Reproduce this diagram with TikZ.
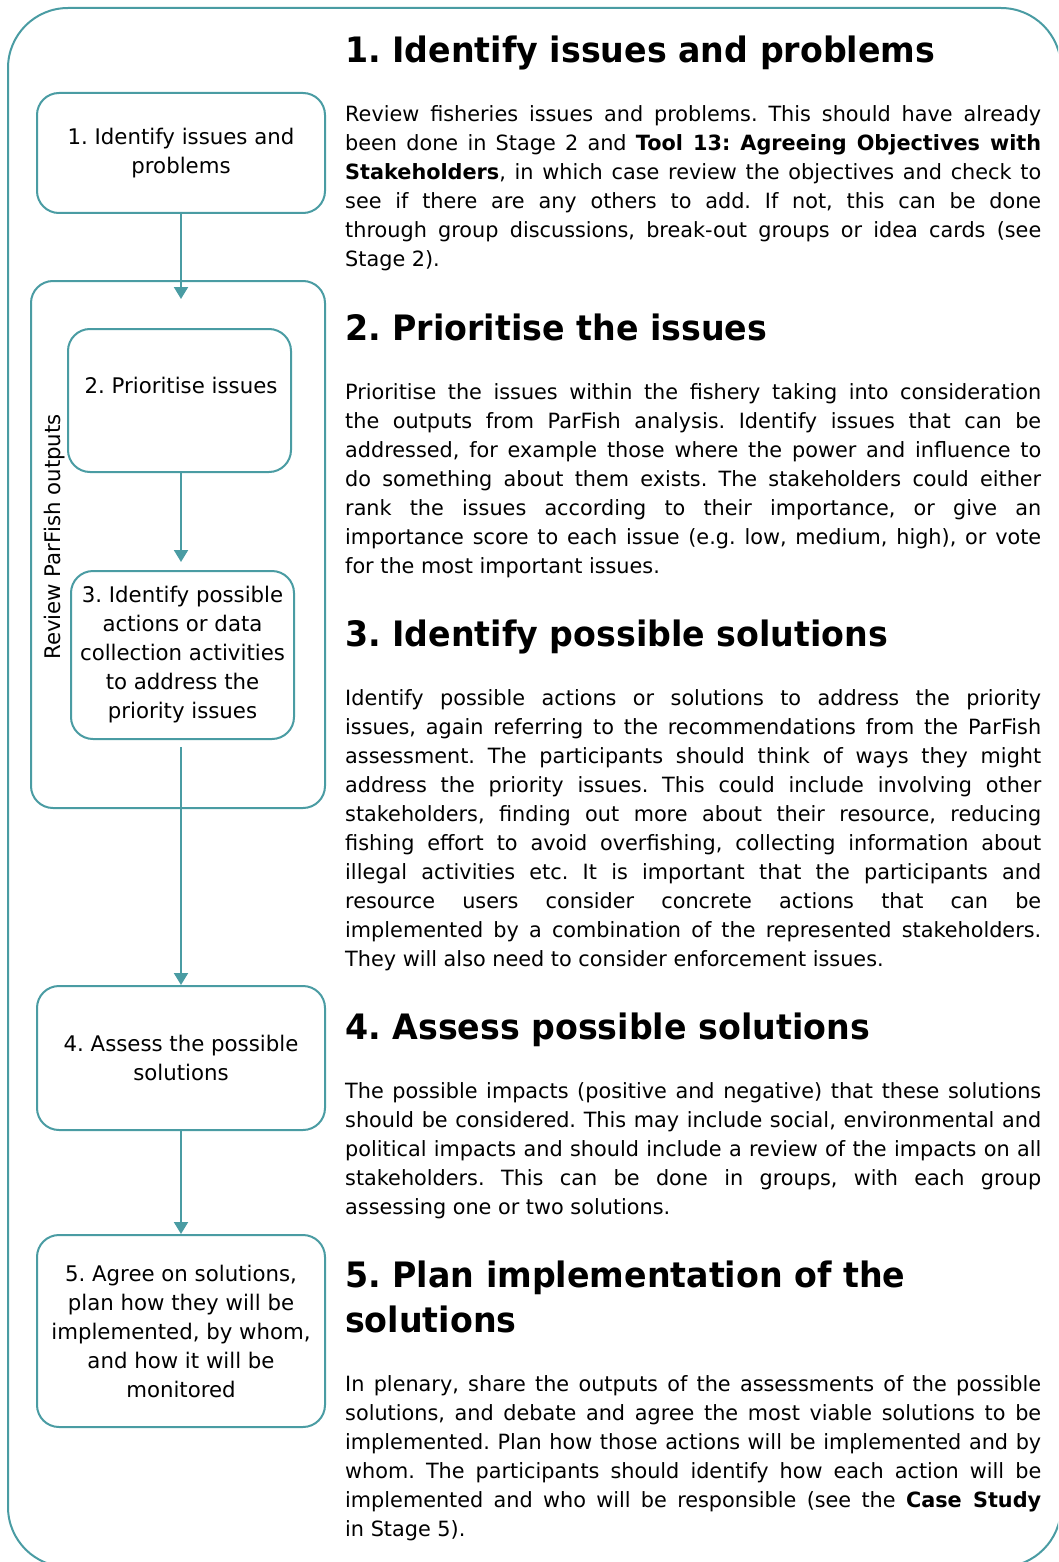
\documentclass[tikz,border=0pt]{standalone}
\usepackage{fontspec}
\setmainfont{DejaVu Sans}[FakeStretch=0.99]
\newfontfamily\hfont{DejaVu Sans}[FakeStretch=0.95]
\usetikzlibrary{arrows.meta}
\definecolor{tealline}{RGB}{74,156,163}
\newcommand\jl[1]{\hbox to 696pt{#1}}
\newcommand\el[1]{\hbox{#1}}
\begin{document}
\frenchspacing
\begin{tikzpicture}[x=1pt,y=-1pt,
  frame/.style={draw=tealline,line width=2pt,rounded corners=22pt},
  box/.style={frame,fill=white,align=center,font=\fontsize{21.5}{29}\selectfont,inner sep=0pt},
  conn/.style={draw=tealline,line width=2pt,-{Triangle[width=14pt,length=12pt]}},
  head/.style={anchor=base west,inner sep=0pt,font=\hfont\fontsize{35}{45}\selectfont\bfseries},
  para/.style={anchor=base west,inner sep=0pt,font=\fontsize{21}{29}\selectfont}]
\useasboundingbox (0,0) rectangle (1058,1562);
\begin{scope}
\clip (0,0) rectangle (1058,1562);
\draw[tealline,line width=2pt,rounded corners=60pt] (8,8) rectangle (1061,1567);
\end{scope}

% left flow
\node[box,minimum width=288pt,minimum height=120pt] (b1) at (181,153) {1. Identify issues and\\problems};
\node[frame,minimum width=294pt,minimum height=527pt] (grp) at (178,544.5) {};
\node[rotate=90,fill=white,inner sep=2pt,font=\fontsize{21.5}{29}\selectfont] (lbl) at (55,537) {Review ParFish outputs};
\node[frame,fill=white,minimum width=223pt,minimum height=143pt] (b2) at (179.5,400.5) {};
\node[inner sep=0pt,font=\fontsize{21.5}{29}\selectfont] (b2t) at (181,385) {2. Prioritise issues};
\node[box,minimum width=223pt,minimum height=168pt] (b3) at (182.5,655) {3. Identify possible\\actions or data\\collection activities\\to address the\\priority issues};
\node[box,minimum width=288pt,minimum height=144pt] (b4) at (181,1058) {4. Assess the possible\\solutions};
\node[box,minimum width=288pt,minimum height=192pt] (b5) at (181,1331) {5. Agree on solutions,\\plan how they will be\\implemented, by whom,\\and how it will be\\monitored};

\coordinate (t1) at (181,299);
\draw[conn] (b1.south) -- (t1);
\draw[conn,shorten >=8pt] (b2.south -| t1) -- (b3.north -| t1);
\draw[conn,shorten <=7pt] (b3.south -| t1) -- (b4.north -| t1);
\draw[conn] (b4.south) -- (b5.north);

% right text
\node[head] (h1) at (345,63) {1. Identify issues and problems};
\node[para] (p1) at (345,122) {\parbox[t]{696pt}{%
\jl{Review fisheries issues and problems. This should have already}
\jl{been done in Stage 2 and \textbf{Tool 13: Agreeing Objectives with}}
\jl{\textbf{Stakeholders}, in which case review the objectives and check to}
\jl{see if there are any others to add. If not, this can be done}
\jl{through group discussions, break-out groups or idea cards (see}
\el{Stage 2).}}};

\node[head] (h2) at (345,340) {2. Prioritise the issues};
\node[para] (p2) at (345,399) {\parbox[t]{696pt}{%
\jl{Prioritise the issues within the fishery taking into consideration}
\jl{the outputs from ParFish analysis. Identify issues that can be}
\jl{addressed, for example those where the power and influence to}
\jl{do something about them exists. The stakeholders could either}
\jl{rank the issues according to their importance, or give an}
\jl{importance score to each issue (e.g. low, medium, high), or vote}
\el{for the most important issues.}}};

\node[head] (h3) at (345,646) {3. Identify possible solutions};
\node[para] (p3) at (345,705) {\parbox[t]{696pt}{%
\jl{Identify possible actions or solutions to address the priority}
\jl{issues, again referring to the recommendations from the ParFish}
\jl{assessment. The participants should think of ways they might}
\jl{address the priority issues. This could include involving other}
\jl{stakeholders, finding out more about their resource, reducing}
\jl{fishing effort to avoid overfishing, collecting information about}
\jl{illegal activities etc. It is important that the participants and}
\jl{resource users consider concrete actions that can be}
\jl{implemented by a combination of the represented stakeholders.}
\el{They will also need to consider enforcement issues.}}};

\node[head] (h4) at (345,1039) {4. Assess possible solutions};
\node[para] (p4) at (345,1098) {\parbox[t]{696pt}{%
\jl{The possible impacts (positive and negative) that these solutions}
\jl{should be considered. This may include social, environmental and}
\jl{political impacts and should include a review of the impacts on all}
\jl{stakeholders. This can be done in groups, with each group}
\el{assessing one or two solutions.}}};

\node[head] (h5) at (345,1287) {\parbox[t]{710pt}{5. Plan implementation of the\\solutions}};
\node[para] (p5) at (345,1391) {\parbox[t]{696pt}{%
\jl{In plenary, share the outputs of the assessments of the possible}
\jl{solutions, and debate and agree the most viable solutions to be}
\jl{implemented. Plan how those actions will be implemented and by}
\jl{whom. The participants should identify how each action will be}
\jl{implemented and who will be responsible (see the \textbf{Case Study}}
\el{in Stage 5).}}};
\end{tikzpicture}
\end{document}
